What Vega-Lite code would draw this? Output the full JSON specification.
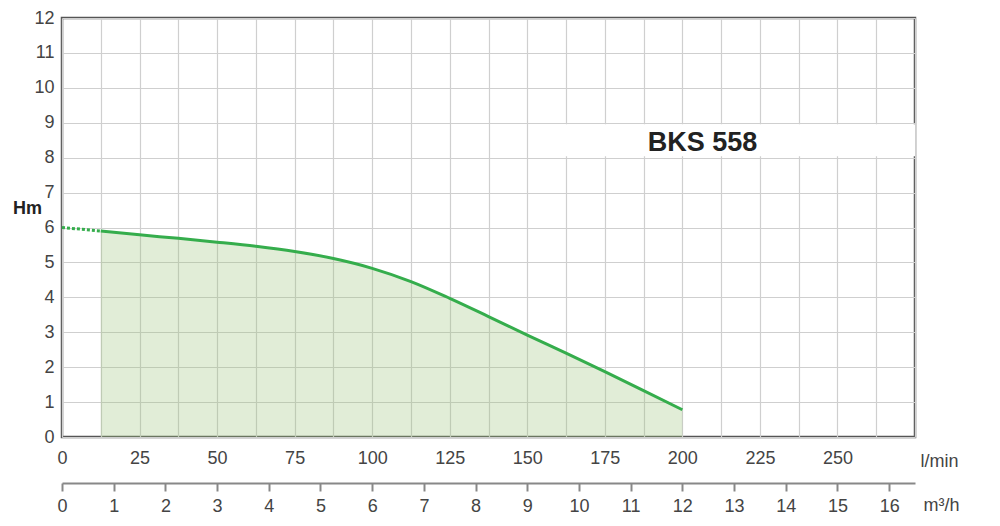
{
  "$schema": "https://vega.github.io/schema/vega-lite/v6.json",
  "width": 853,
  "height": 419,
  "autosize": "none",
  "padding": {"left": 62, "top": 18, "right": 85, "bottom": 89},
  "background": "white",
  "config": {
    "font": "Liberation Sans",
    "view": {"stroke": "#555555", "strokeWidth": 2.5},
    "axis": {"labelFont": "Liberation Sans", "titleFont": "Liberation Sans"}
  },
  "datasets": {
    "curve": [
      {"q": 12.5, "H": 5.9},
      {"q": 25, "H": 5.79},
      {"q": 37.5, "H": 5.69},
      {"q": 50, "H": 5.58},
      {"q": 62.5, "H": 5.46},
      {"q": 75, "H": 5.31},
      {"q": 87.5, "H": 5.11},
      {"q": 100, "H": 4.83},
      {"q": 112.5, "H": 4.45},
      {"q": 125, "H": 3.97},
      {"q": 137.5, "H": 3.45},
      {"q": 150, "H": 2.92},
      {"q": 162.5, "H": 2.4},
      {"q": 175, "H": 1.87},
      {"q": 187.5, "H": 1.33},
      {"q": 200, "H": 0.78}
    ],
    "dotted": [
      {"q": 0, "H": 6.0},
      {"q": 12.5, "H": 5.9}
    ],
    "band": [
      {"q": 151, "q2": 275, "H": 8.04, "H2": 8.96}
    ],
    "label": [
      {"q": 206.5, "H": 8.42, "text": "BKS 558"}
    ],
    "m3h": [
      {"m": 0, "H": 0},
      {"m": 16, "H": 0}
    ]
  },
  "encoding": {
    "y": {
      "field": "H", "type": "quantitative",
      "scale": {"domain": [0, 12], "nice": false},
      "axis": {
        "values": [0, 1, 2, 3, 4, 5, 6, 7, 8, 9, 10, 11, 12],
        "grid": true, "gridColor": "#cfcfcf", "gridWidth": 1.2,
        "ticks": false, "domain": false,
        "labelFontSize": 18, "labelColor": "#444444", "labelPadding": 8,
        "labelFlush": false, "labelOverlap": false,
        "title": "Hm", "titleAngle": 0, "titleFontSize": 18, "titleFontWeight": "bold", "titleColor": "#222222",
        "titleX": -35, "titleY": 190, "titleAlign": "center", "titleBaseline": "middle"
      }
    }
  },
  "layer": [
    {
      "encoding": {
        "x": {
          "field": "q", "type": "quantitative",
          "scale": {"domain": [0, 275], "nice": false, "zero": false},
          "axis": {
            "orient": "bottom",
            "values": [0, 12.5, 25, 37.5, 50, 62.5, 75, 87.5, 100, 112.5, 125, 137.5, 150, 162.5, 175, 187.5, 200, 212.5, 225, 237.5, 250, 262.5, 275],
            "labelExpr": "(datum.value % 25 == 0 && datum.value < 260) ? datum.label : ''",
            "grid": true, "gridColor": "#cfcfcf", "gridWidth": 1.2,
            "ticks": false, "domain": false,
            "labelFontSize": 18, "labelColor": "#444444", "labelPadding": 12,
            "labelFlush": false, "labelOverlap": false,
            "title": "l/min", "titleFontSize": 18, "titleFontWeight": "normal", "titleColor": "#444444",
            "titleX": 858, "titleY": 24, "titleAlign": "left", "titleBaseline": "middle", "titleAnchor": null
          }
        }
      },
      "layer": [
        {
          "data": {"name": "curve"},
          "mark": {"type": "area", "interpolate": "monotone", "color": "#9cc27a", "opacity": 0.3}
        },
        {
          "data": {"name": "curve"},
          "mark": {"type": "line", "interpolate": "monotone", "color": "#35ad4c", "strokeWidth": 3}
        },
        {
          "data": {"name": "dotted"},
          "mark": {"type": "line", "color": "#35ad4c", "strokeWidth": 3, "strokeDash": [3, 2]}
        },
        {
          "data": {"name": "band"},
          "mark": {"type": "rect", "color": "white"},
          "encoding": {
            "x2": {"field": "q2"},
            "y2": {"field": "H2"}
          }
        },
        {
          "data": {"name": "label"},
          "mark": {"type": "text", "fontSize": 27, "fontWeight": "bold", "color": "#222222", "align": "center", "baseline": "middle"},
          "encoding": {
            "text": {"field": "text"}
          }
        }
      ]
    },
    {
      "data": {"name": "m3h"},
      "mark": {"type": "point", "opacity": 0},
      "encoding": {
        "x": {
          "field": "m", "type": "quantitative",
          "scale": {"domain": [0, 16.5], "nice": false, "zero": false},
          "axis": {
            "orient": "bottom", "offset": 46,
            "values": [0, 1, 2, 3, 4, 5, 6, 7, 8, 9, 10, 11, 12, 13, 14, 15, 16],
            "grid": false,
            "domain": true, "domainColor": "#888888", "domainWidth": 2,
            "ticks": true, "tickColor": "#888888", "tickWidth": 2, "tickSize": 8,
            "labelFontSize": 18, "labelColor": "#444444", "labelPadding": 6,
            "labelFlush": false, "labelOverlap": false,
            "title": "m³/h", "titleFontSize": 18, "titleFontWeight": "normal", "titleColor": "#444444",
            "titleX": 861, "titleY": 22, "titleAlign": "left", "titleBaseline": "middle", "titleAnchor": null
          }
        }
      }
    }
  ],
  "resolve": {"scale": {"x": "independent"}, "axis": {"x": "independent"}}
}
